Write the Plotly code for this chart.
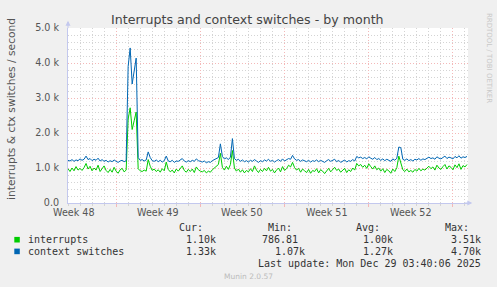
import plotly.graph_objects as go

# ---------------- data (values in thousands, one sample every 4 hours) ----------------
STEP_DAYS = 1 / 6

interrupts_k = [
    # before the spike
    0.98, 0.90, 1.00, 0.92, 1.04, 0.94, 0.99, 0.93, 1.01, 1.13, 0.97, 1.05, 0.92, 1.00, 0.94,
    1.08, 0.90, 0.98, 1.06, 0.93, 0.87, 0.96, 0.88, 1.02, 0.91, 0.85, 0.95, 0.99, 0.89, 0.94,
    # spike
    2.40, 2.72, 2.10, 2.35, 2.60, 0.98,
    # until first half of week 49
    0.92, 0.90, 0.94, 0.91, 1.24, 1.05, 0.93, 0.97, 0.90, 0.95, 0.88, 0.98, 0.92, 1.17, 0.96,
    0.89, 0.94, 0.86, 0.97, 0.91, 0.99, 1.06, 0.93, 0.88, 0.96, 0.90, 0.97, 0.87, 1.03, 0.95, 0.91,
    # week 49 / 50 / 51
    0.89, 0.93, 0.86, 0.91, 0.88, 0.95, 1.00, 1.04, 1.10,
    1.42,
    1.02, 0.94, 1.05, 0.96, 1.10,
    1.50,
    1.00, 0.91, 0.97, 0.88, 0.95, 0.86, 0.93, 0.89, 0.98, 0.90, 1.06, 0.94, 0.87, 0.96, 0.90, 0.99, 0.92,
    1.02, 0.91, 0.96, 0.86, 0.94, 1.00, 0.89, 1.04, 0.93, 0.98, 1.08, 1.03,
    1.16,
    1.01, 0.94, 0.99, 0.88, 0.97, 0.92, 0.87, 0.96, 0.85, 0.93, 0.90, 0.98, 0.86, 0.95, 0.91,
    0.84, 0.93, 0.99, 0.89, 0.96, 1.02,
    # week 51 / 52
    0.93, 0.97, 0.88, 0.94, 0.99, 0.87, 0.95, 0.90, 1.00, 0.94,
    1.13, 1.06, 1.10, 1.02, 1.08, 0.99, 1.12, 1.04, 0.97, 1.06,
    0.95, 1.00, 0.91, 0.98, 0.87, 0.96, 0.92, 0.85, 0.97, 0.90, 1.01,
    1.34, 1.10,
    0.95, 0.90, 0.97, 0.89, 0.93, 0.88, 0.96, 0.91, 0.99, 0.92, 0.97, 0.94, 1.00,
    1.05, 0.98, 1.03, 0.94, 1.08, 1.00, 0.96, 1.04, 1.10, 0.97, 1.06, 1.02, 0.95, 1.09, 1.01,
    1.12, 0.96, 1.07, 1.03, 1.10,
]

context_switches_k = [
    1.22, 1.20, 1.24, 1.19, 1.23, 1.21, 1.26, 1.22, 1.25, 1.34, 1.24, 1.27, 1.21, 1.25, 1.22,
    1.28, 1.20, 1.24, 1.19, 1.22, 1.17, 1.21, 1.18, 1.23, 1.19, 1.16, 1.20, 1.22, 1.18, 1.21,
    3.90, 4.43, 3.40, 3.80, 4.14, 1.30,
    1.22, 1.24, 1.20, 1.23, 1.46, 1.30, 1.21, 1.19, 1.23, 1.18, 1.22, 1.17, 1.21, 1.34, 1.20,
    1.18, 1.22, 1.16, 1.20, 1.19, 1.23, 1.27, 1.20, 1.17, 1.21, 1.18, 1.22, 1.19, 1.26, 1.21, 1.19,
    1.17, 1.20, 1.15, 1.18, 1.16, 1.21, 1.24, 1.27, 1.30,
    1.69,
    1.33, 1.26, 1.29, 1.24, 1.31,
    1.84,
    1.27, 1.22, 1.25, 1.19, 1.23, 1.18, 1.21, 1.17, 1.22, 1.19, 1.24, 1.20, 1.16, 1.21, 1.18, 1.23, 1.20,
    1.25, 1.19, 1.22, 1.17, 1.21, 1.24, 1.19, 1.26, 1.20, 1.23, 1.27, 1.25,
    1.36,
    1.26, 1.22, 1.24, 1.19, 1.23, 1.20, 1.18, 1.22, 1.17, 1.21, 1.19, 1.23, 1.18, 1.22, 1.20,
    1.16, 1.21, 1.24, 1.19, 1.22, 1.25,
    1.18, 1.22, 1.16, 1.20, 1.23, 1.17, 1.21, 1.19, 1.24, 1.20,
    1.33, 1.29, 1.31, 1.27, 1.30, 1.26, 1.32, 1.28, 1.25, 1.30,
    1.24, 1.27, 1.22, 1.26, 1.21, 1.25, 1.23, 1.19, 1.26, 1.22, 1.28,
    1.60, 1.58,
    1.25, 1.22, 1.26, 1.21, 1.24, 1.20, 1.25, 1.23, 1.27, 1.22, 1.26, 1.24, 1.28,
    1.31, 1.27, 1.29, 1.25, 1.32, 1.28, 1.26, 1.30, 1.34, 1.27, 1.31, 1.29, 1.26, 1.33, 1.29,
    1.35, 1.28, 1.32, 1.30, 1.33,
]

series_names = ["interrupts", "context switches"]
series_colors = ["#00CC00", "#0066B3"]
cur_vals = ["1.10k", "1.33k"]
min_vals = ["786.81", "1.07k"]
avg_vals = ["1.00k", "1.27k"]
max_vals = ["3.51k", "4.70k"]

week_labels = ["Week 48", "Week 49", "Week 50", "Week 51", "Week 52"]
week_label_day = [0.5, 7.5, 14.5, 21.5, 28.5]
week_start_day = [4, 11, 18, 25, 32]
x_span_days = 33.25

y_tickvals = [0, 1000, 2000, 3000, 4000, 5000]
y_ticktext = ["0.0", "1.0 k", "2.0 k", "3.0 k", "4.0 k", "5.0 k"]

title_text = "Interrupts and context switches - by month"
y_title = "interrupts &amp; ctx switches / second"
last_update = "Last update: Mon Dec 29 03:40:06 2025"
munin_ver = "Munin 2.0.57"
watermark = "RRDTOOL / TOBI OETIKER"

# ---------------- layout geometry (pixels) ----------------
W, H = 497, 287
PL, PR, PT, PB = 67.7, 467.7, 28.3, 203.3


def px(x):
    return (x - PL) / (PR - PL)


def py(y):
    return (PB - y) / (PB - PT)


days = [i * STEP_DAYS for i in range(len(interrupts_k))]

fig = go.Figure()
for name, vals, col in zip(series_names, [interrupts_k, context_switches_k], series_colors):
    fig.add_trace(go.Scatter(
        x=days, y=[v * 1000 for v in vals], mode="lines", name=name,
        line=dict(color=col, width=1), showlegend=False, hoverinfo="skip",
    ))

GRID_MINOR = "#D4D4D4"
GRID_MAJOR = "#F4B8B8"
AXIS_COL = "#C3C8EE"
TXT = "#555555"

fig.update_layout(
    width=W, height=H,
    margin=dict(l=PL, r=W - PR, t=PT, b=H - PB, pad=0),
    paper_bgcolor="#F0F0F0", plot_bgcolor="#FFFFFF",
    font=dict(family="DejaVu Sans", size=10, color=TXT),
    showlegend=False,
    xaxis=dict(
        range=[0, x_span_days], tickmode="array", tickvals=week_start_day,
        ticktext=["" for _ in week_start_day],
        showgrid=True, gridcolor=GRID_MAJOR, griddash="1px,2px", gridwidth=1,
        ticks="outside", ticklen=3, tickcolor=GRID_MAJOR,
        minor=dict(tick0=0, dtick=1, showgrid=True, gridcolor=GRID_MINOR,
                   griddash="1px,2px", ticks="outside", ticklen=2, tickcolor=GRID_MINOR),
        showline=True, linecolor=AXIS_COL, linewidth=1, zeroline=False, fixedrange=True,
    ),
    yaxis=dict(
        range=[0, 5000], tickmode="array", tickvals=y_tickvals, ticktext=y_ticktext,
        showgrid=True, gridcolor=GRID_MAJOR, griddash="1px,2px", gridwidth=1,
        ticks="", ticklabelstandoff=6,
        tickfont=dict(family="DejaVu Sans", size=9.6, color=TXT),
        minor=dict(dtick=200, showgrid=True, gridcolor=GRID_MINOR, griddash="1px,2px"),
        showline=True, linecolor=AXIS_COL, linewidth=1, zeroline=False, fixedrange=True,
    ),
)

ann = []
# title
ann.append(dict(text=title_text, x=px(247.5), y=py(19.5), xref="paper", yref="paper",
                xanchor="center", yanchor="middle", showarrow=False,
                font=dict(family="DejaVu Sans", size=12.6, color="#444444")))
# y title
ann.append(dict(text=y_title, x=px(10.5), y=py(109.5), xref="paper", yref="paper",
                xanchor="center", yanchor="middle", textangle=-90, showarrow=False,
                font=dict(family="DejaVu Sans", size=10.7, color=TXT)))
# week labels
for lab, d in zip(week_labels, week_label_day):
    ann.append(dict(text=lab, x=d, y=py(212.5), xref="x", yref="paper",
                    xanchor="center", yanchor="middle", showarrow=False,
                    font=dict(family="DejaVu Sans", size=9.6, color=TXT)))
# watermark
ann.append(dict(text=watermark, x=px(488.5), y=py(58), xref="paper", yref="paper",
                xanchor="center", yanchor="middle", textangle=90, showarrow=False,
                font=dict(family="DejaVu Sans", size=7, color="#C8C8C8")))
# axis arrowheads
ann.append(dict(x=px(472), y=py(PB), ax=-9, ay=0, xref="paper", yref="paper",
                axref="pixel", ayref="pixel", text="", showarrow=True, arrowhead=2,
                arrowsize=1, arrowwidth=1, arrowcolor=AXIS_COL))
ann.append(dict(x=px(PL), y=py(21), ax=0, ay=9, xref="paper", yref="paper",
                axref="pixel", ayref="pixel", text="", showarrow=True, arrowhead=2,
                arrowsize=1, arrowwidth=1, arrowcolor=AXIS_COL))

MONO = "DejaVu Sans Mono"
LEG_TXT = "#333333"


def txt(s, xr, yc, anchor="right", size=10, color=LEG_TXT, fam=MONO):
    ann.append(dict(text=s, x=px(xr), y=py(yc), xref="paper", yref="paper",
                    xanchor=anchor, yanchor="middle", showarrow=False,
                    font=dict(family=fam, size=size, color=color)))


# legend header
for h, xr in zip(["Cur:", "Min:", "Avg:", "Max:"], [205, 294, 382, 471]):
    txt(h, xr, 228)

row_y = [240, 251.7]
col_right = [[218, 300, 395, 483], [218, 307, 395, 483]]
shapes = []
for k in range(2):
    yc = row_y[k]
    shapes.append(dict(type="rect", xref="paper", yref="paper",
                       x0=px(14), x1=px(19.5), y0=py(yc + 2.8), y1=py(yc - 2.8),
                       fillcolor=series_colors[k], line=dict(width=0)))
    txt(series_names[k], 25.5, yc, anchor="left")
    for v, xr in zip([cur_vals[k], min_vals[k], avg_vals[k], max_vals[k]], col_right[k]):
        txt(v, xr, yc)

txt(last_update, 483, 263.3)
txt(munin_ver, 248, 276.7, anchor="center", size=7.5, color="#BBBBBB", fam="DejaVu Sans")

fig.update_layout(annotations=ann, shapes=shapes)
fig.write_html("out.html")
